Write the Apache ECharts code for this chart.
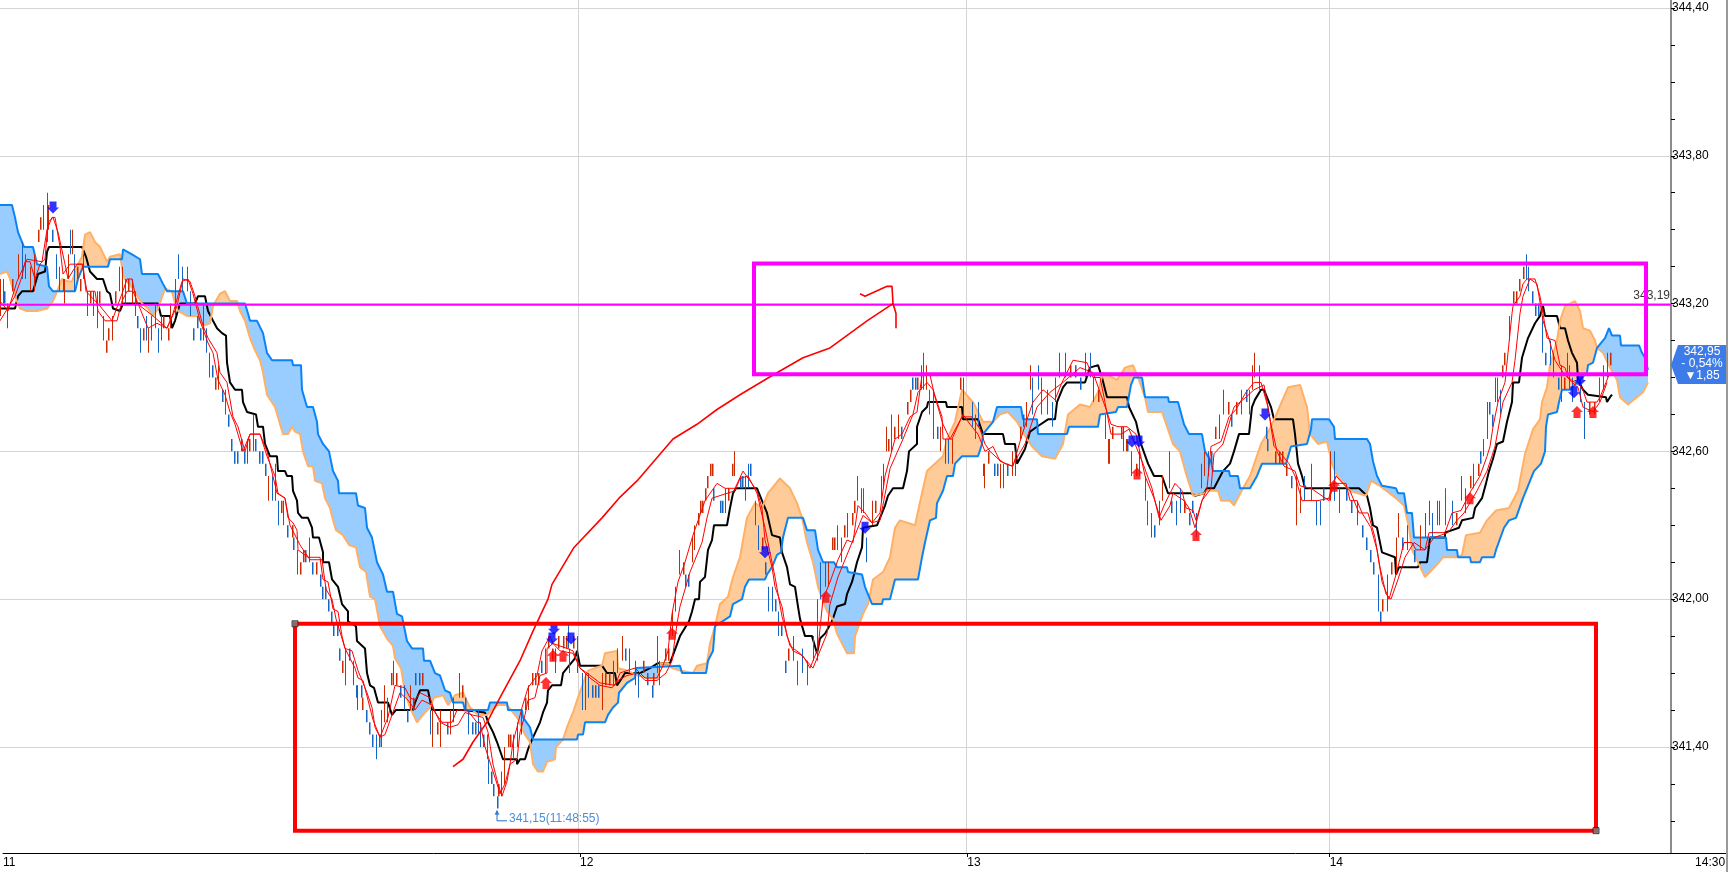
<!DOCTYPE html>
<html><head><meta charset="utf-8">
<style>html,body{margin:0;padding:0;background:#fff}#c{width:1732px;height:872px}</style>
<script src="https://cdn.jsdelivr.net/npm/echarts@6/dist/echarts.min.js"></script>
</head><body><div id="c"></div>
<script>
// Horizontal unit: chart slot (irregular session time). Vertical unit: price.
const priceLabels=[341.4,342.0,342.6,343.2,343.8,344.4];
const priceTicks=[341.1,341.25,341.4,341.55,341.7,341.85,342.0,342.15,342.3,342.45,342.6,342.75,342.9,343.05,343.2,343.35,343.5,343.65,343.8,343.95,344.1,344.25,344.4];
const timeTicks=[578,966,1329];
const timeLabelSlots=[0,578,966,1329,1695];
const timeLabels=['11','12','13','14','14:30'];

const spanB=[[0,343.60],[12,343.60],[15,343.55],[18,343.49],[24,343.43],[33,343.43],[37,343.36],[47,343.35],[49,343.27],[53,343.25],[75,343.25],[78,343.30],[83,343.35],[108,343.35],[110,343.38],[122,343.38],[123,343.42],[132,343.40],[140,343.38],[142,343.32],[158,343.32],[163,343.28],[167,343.25],[183,343.25],[187,343.20],[245,343.20],[248,343.16],[250,343.13],[257,343.13],[263,343.08],[267,343.00],[272,342.97],[292,342.97],[293,342.95],[301,342.95],[302,342.85],[307,342.78],[313,342.78],[317,342.72],[318,342.67],[323,342.63],[329,342.60],[333,342.52],[338,342.48],[339,342.43],[356,342.43],[358,342.38],[365,342.37],[367,342.29],[372,342.25],[377,342.15],[383,342.10],[387,342.03],[393,342.03],[397,341.94],[402,341.93],[407,341.83],[412,341.80],[423,341.80],[424,341.75],[430,341.75],[435,341.70],[440,341.69],[445,341.63],[450,341.62],[453,341.58],[463,341.58],[465,341.55],[488,341.55],[490,341.58],[507,341.58],[508,341.55],[522,341.55],[523,341.52],[530,341.48],[533,341.43],[577,341.43],[578,341.45],[583,341.45],[585,341.50],[605,341.50],[608,341.53],[613,341.56],[618,341.58],[619,341.62],[627,341.66],[635,341.68],[636,341.72],[680,341.73],[682,341.70],[706,341.70],[708,341.75],[713,341.79],[715,341.89],[730,341.93],[733,341.98],[742,342.00],[745,342.05],[749,342.08],[765,342.08],[767,342.10],[772,342.13],[777,342.18],[781,342.19],[783,342.25],[788,342.33],[803,342.33],[807,342.28],[815,342.28],[818,342.20],[823,342.15],[834,342.15],[837,342.13],[847,342.13],[848,342.11],[862,342.10],[865,342.05],[870,342.00],[872,341.98],[882,341.98],[883,342.00],[890,342.00],[895,342.08],[918,342.08],[922,342.17],[925,342.23],[930,342.32],[936,342.33],[937,342.39],[943,342.44],[947,342.50],[953,342.50],[955,342.55],[962,342.58],[978,342.58],[982,342.63],[983,342.67],[993,342.72],[997,342.78],[1021,342.78],[1023,342.73],[1037,342.73],[1038,342.67],[1067,342.67],[1069,342.70],[1098,342.70],[1100,342.75],[1116,342.76],[1118,342.78],[1127,342.78],[1131,342.87],[1134,342.90],[1142,342.90],[1145,342.82],[1168,342.82],[1169,342.80],[1178,342.80],[1184,342.71],[1189,342.67],[1202,342.67],[1205,342.60],[1211,342.56],[1213,342.52],[1229,342.52],[1230,342.50],[1238,342.50],[1240,342.45],[1250,342.45],[1257,342.50],[1262,342.55],[1286,342.55],[1291,342.62],[1307,342.63],[1311,342.69],[1312,342.73],[1329,342.73],[1334,342.70],[1335,342.65],[1367,342.65],[1370,342.63],[1373,342.56],[1377,342.50],[1382,342.46],[1396,342.45],[1398,342.43],[1404,342.43],[1407,342.35],[1412,342.35],[1414,342.25],[1446,342.25],[1447,342.20],[1457,342.20],[1458,342.17],[1470,342.17],[1471,342.15],[1480,342.15],[1482,342.17],[1494,342.17],[1496,342.20],[1504,342.29],[1509,342.32],[1516,342.33],[1523,342.41],[1527,342.45],[1532,342.50],[1534,342.52],[1541,342.55],[1545,342.60],[1546,342.70],[1548,342.75],[1557,342.76],[1559,342.80],[1562,342.85],[1570,342.85],[1587,342.92],[1588,342.95],[1593,342.96],[1597,343.02],[1605,343.06],[1609,343.10],[1612,343.07],[1620,343.07],[1621,343.03],[1639,343.03],[1642,343.00],[1645,342.98],[1648,342.93]];

const spanA=[[0,343.32],[7,343.33],[10,343.30],[15,343.23],[20,343.18],[27,343.17],[37,343.17],[47,343.18],[53,343.21],[57,343.25],[62,343.30],[68,343.29],[72,343.29],[78,343.36],[82,343.39],[85,343.48],[90,343.49],[95,343.45],[100,343.43],[107,343.37],[110,343.39],[120,343.40],[123,343.32],[125,343.30],[133,343.26],[142,343.20],[148,343.18],[153,343.15],[158,343.18],[165,343.26],[172,343.25],[175,343.20],[178,343.17],[187,343.15],[197,343.15],[203,343.11],[210,343.12],[213,343.19],[220,343.24],[225,343.25],[230,343.21],[237,343.21],[240,343.17],[245,343.13],[250,343.06],[255,343.01],[260,342.97],[263,342.92],[267,342.83],[275,342.78],[283,342.67],[288,342.67],[292,342.70],[295,342.68],[300,342.67],[303,342.60],[308,342.54],[313,342.54],[315,342.48],[322,342.47],[325,342.41],[330,342.37],[333,342.32],[336,342.28],[343,342.26],[349,342.22],[356,342.21],[360,342.13],[366,342.11],[370,342.01],[375,342.00],[380,341.89],[387,341.84],[393,341.81],[395,341.76],[401,341.72],[405,341.62],[410,341.56],[417,341.50],[425,341.54],[430,341.56],[434,341.60],[443,341.61],[448,341.57],[455,341.61],[463,341.62],[470,341.56],[478,341.53],[487,341.53],[497,341.57],[507,341.57],[517,341.52],[525,341.45],[530,341.42],[533,341.33],[538,341.30],[543,341.30],[547,341.34],[555,341.35],[556,341.40],[563,341.43],[567,341.48],[573,341.54],[578,341.60],[585,341.68],[588,341.71],[602,341.73],[605,341.78],[617,341.79],[618,341.72],[627,341.71],[638,341.69],[647,341.68],[658,341.68],[660,341.74],[668,341.74],[672,341.72],[680,341.71],[693,341.70],[697,341.73],[707,341.74],[710,341.82],[715,341.89],[720,341.98],[728,342.01],[733,342.09],[740,342.17],[747,342.33],[755,342.39],[762,342.37],[768,342.43],[780,342.49],[790,342.45],[797,342.39],[802,342.33],[807,342.23],[813,342.15],[818,342.05],[827,341.95],[833,341.92],[837,341.86],[847,341.78],[854,341.78],[855,341.85],[863,341.94],[868,341.98],[873,342.08],[883,342.11],[890,342.17],[895,342.29],[900,342.32],[915,342.30],[922,342.43],[927,342.52],[943,342.58],[947,342.65],[955,342.72],[962,342.85],[973,342.80],[983,342.72],[993,342.72],[1000,342.75],[1008,342.76],[1017,342.72],[1027,342.65],[1032,342.62],[1042,342.58],[1055,342.57],[1063,342.63],[1068,342.75],[1080,342.79],[1090,342.78],[1098,342.84],[1103,342.92],[1117,342.89],[1125,342.94],[1133,342.95],[1138,342.90],[1145,342.82],[1148,342.76],[1162,342.76],[1173,342.63],[1180,342.60],[1186,342.51],[1193,342.42],[1204,342.43],[1207,342.44],[1218,342.44],[1221,342.40],[1230,342.40],[1234,342.38],[1243,342.45],[1250,342.50],[1261,342.63],[1271,342.70],[1288,342.86],[1300,342.87],[1307,342.78],[1310,342.67],[1318,342.63],[1327,342.64],[1332,342.55],[1337,342.50],[1350,342.44],[1366,342.42],[1371,342.48],[1380,342.46],[1396,342.41],[1404,342.38],[1409,342.29],[1412,342.20],[1425,342.09],[1437,342.14],[1443,342.17],[1457,342.17],[1462,342.18],[1466,342.26],[1480,342.27],[1487,342.32],[1496,342.36],[1509,342.37],[1518,342.44],[1525,342.59],[1533,342.69],[1540,342.73],[1542,342.80],[1547,342.86],[1550,342.95],[1557,343.05],[1560,343.13],[1565,343.19],[1575,343.21],[1580,343.17],[1583,343.10],[1590,343.09],[1595,343.05],[1597,343.02],[1603,343.00],[1610,342.94],[1617,342.89],[1620,342.82],[1628,342.79],[1637,342.82],[1643,342.84],[1648,342.88]];

const baseLine=[[0,343.18],[15,343.18],[18,343.23],[22,343.25],[33,343.25],[38,343.32],[45,343.33],[47,343.41],[49,343.43],[82,343.43],[86,343.39],[90,343.33],[97,343.30],[103,343.30],[107,343.25],[110,343.24],[113,343.18],[120,343.17],[123,343.20],[158,343.20],[161,343.15],[170,343.15],[172,343.10],[175,343.13],[180,343.20],[195,343.20],[198,343.23],[205,343.23],[208,343.17],[213,343.13],[217,343.10],[222,343.08],[226,343.07],[227,342.96],[230,342.88],[235,342.85],[242,342.85],[243,342.80],[247,342.76],[256,342.75],[258,342.70],[263,342.70],[265,342.63],[270,342.58],[277,342.58],[278,342.52],[285,342.52],[287,342.50],[292,342.50],[293,342.44],[297,342.40],[298,342.35],[302,342.33],[308,342.33],[312,342.29],[313,342.25],[319,342.25],[323,342.19],[323,342.15],[329,342.15],[332,342.08],[338,342.05],[342,341.98],[348,341.95],[348,341.91],[356,341.89],[357,341.83],[365,341.80],[367,341.70],[370,341.65],[374,341.64],[378,341.58],[388,341.58],[392,341.53],[396,341.55],[413,341.55],[415,341.58],[420,341.63],[428,341.63],[432,341.55],[463,341.55],[485,341.54],[488,341.50],[493,341.46],[497,341.42],[503,341.35],[517,341.35],[517,341.33],[520,341.35],[525,341.35],[528,341.39],[532,341.43],[540,341.50],[543,341.54],[547,341.58],[548,341.63],[552,341.65],[561,341.65],[563,341.70],[567,341.72],[575,341.76],[577,341.79],[580,341.73],[602,341.73],[607,341.70],[615,341.70],[617,341.65],[622,341.68],[625,341.70],[640,341.70],[650,341.72],[658,341.74],[670,341.74],[680,341.85],[689,341.91],[692,341.95],[695,342.00],[699,342.00],[700,342.07],[705,342.09],[708,342.20],[712,342.24],[714,342.30],[727,342.30],[730,342.37],[733,342.43],[736,342.45],[757,342.45],[762,342.40],[767,342.35],[772,342.26],[780,342.25],[782,342.19],[787,342.13],[790,342.06],[795,342.05],[798,341.97],[800,341.92],[805,341.85],[812,341.85],[817,341.78],[820,341.84],[825,341.86],[832,341.91],[837,341.97],[845,341.98],[847,342.02],[852,342.07],[854,342.10],[857,342.15],[862,342.21],[863,342.29],[877,342.30],[885,342.38],[888,342.42],[893,342.45],[903,342.45],[907,342.52],[909,342.60],[917,342.63],[917,342.70],[922,342.76],[927,342.78],[928,342.80],[946,342.80],[947,342.78],[962,342.78],[963,342.73],[978,342.73],[983,342.67],[1003,342.67],[1005,342.63],[1015,342.63],[1017,342.55],[1025,342.61],[1030,342.68],[1037,342.70],[1048,342.73],[1055,342.73],[1057,342.80],[1063,342.86],[1067,342.88],[1085,342.88],[1090,342.94],[1098,342.95],[1102,342.90],[1107,342.82],[1127,342.82],[1129,342.78],[1136,342.72],[1141,342.63],[1148,342.55],[1154,342.50],[1162,342.50],[1168,342.43],[1191,342.43],[1195,342.42],[1204,342.43],[1207,342.45],[1214,342.45],[1223,342.52],[1230,342.55],[1234,342.60],[1239,342.67],[1249,342.67],[1252,342.78],[1255,342.81],[1261,342.85],[1264,342.85],[1271,342.78],[1274,342.73],[1293,342.73],[1295,342.67],[1298,342.55],[1302,342.50],[1305,342.45],[1359,342.45],[1367,342.42],[1370,342.37],[1373,342.30],[1377,342.29],[1382,342.19],[1395,342.17],[1396,342.10],[1399,342.13],[1418,342.13],[1420,342.15],[1427,342.15],[1430,342.25],[1445,342.25],[1445,342.27],[1459,342.29],[1462,342.32],[1473,342.33],[1475,342.37],[1482,342.41],[1486,342.47],[1489,342.52],[1493,342.57],[1497,342.63],[1503,342.64],[1507,342.72],[1512,342.80],[1513,342.88],[1519,342.88],[1522,342.98],[1528,343.06],[1535,343.12],[1540,343.15],[1543,343.19],[1545,343.15],[1557,343.15],[1560,343.10],[1565,343.10],[1568,343.05],[1572,343.00],[1577,342.96],[1578,342.89],[1583,342.85],[1588,342.83],[1606,342.82],[1607,342.80],[1610,342.82],[1612,342.83]];

const fastLine=[[0,343.21],[8,343.17],[17,343.29],[27,343.38],[42,343.37],[47,343.50],[52,343.55],[55,343.55],[60,343.43],[63,343.32],[70,343.36],[83,343.36],[86,343.25],[100,343.19],[112,343.13],[122,343.24],[127,343.30],[132,343.30],[137,343.20],[153,343.15],[167,343.10],[173,343.16],[182,343.29],[188,343.30],[193,343.24],[200,343.13],[208,343.04],[213,343.00],[218,342.89],[225,342.83],[230,342.76],[235,342.71],[243,342.60],[250,342.67],[260,342.67],[267,342.58],[275,342.50],[278,342.43],[285,342.41],[288,342.33],[293,342.31],[297,342.28],[298,342.20],[308,342.17],[320,342.17],[323,342.08],[328,342.07],[333,341.96],[338,341.95],[342,341.85],[345,341.80],[355,341.72],[358,341.68],[363,341.67],[368,341.59],[373,341.51],[380,341.44],[388,341.52],[395,341.65],[405,341.64],[410,341.60],[415,341.59],[420,341.62],[430,341.60],[435,341.54],[442,341.50],[452,341.50],[457,341.55],[467,341.55],[477,341.50],[480,341.50],[485,341.40],[497,341.25],[500,341.21],[505,341.25],[510,341.33],[513,341.42],[517,341.48],[522,341.56],[528,341.64],[537,341.69],[542,341.79],[550,341.85],[553,341.82],[567,341.80],[573,341.79],[580,341.72],[587,341.70],[600,341.66],[615,341.65],[620,341.70],[627,341.71],[635,341.72],[645,341.68],[657,341.68],[663,341.73],[668,341.79],[672,341.94],[678,342.07],[685,342.15],[693,342.26],[705,342.40],[717,342.47],[725,342.45],[735,342.45],[743,342.52],[750,342.48],[757,342.44],[762,342.37],[765,342.24],[772,342.13],[775,342.05],[782,341.97],[787,341.85],[793,341.79],[803,341.77],[810,341.72],[818,341.80],[823,342.00],[830,342.07],[838,342.16],[847,342.24],[853,342.23],[858,342.38],[865,342.35],[872,342.31],[880,342.35],[885,342.50],[895,342.65],[902,342.67],[910,342.74],[917,342.76],[922,342.91],[930,342.91],[935,342.82],[943,342.71],[950,342.65],[962,342.74],[972,342.74],[980,342.69],[985,342.63],[990,342.60],[998,342.57],[1005,342.55],[1013,342.54],[1020,342.64],[1027,342.73],[1033,342.80],[1043,342.85],[1055,342.81],[1062,342.88],[1073,342.97],[1087,342.96],[1093,342.90],[1100,342.90],[1104,342.82],[1111,342.67],[1121,342.67],[1129,342.69],[1138,342.60],[1143,342.55],[1152,342.45],[1159,342.33],[1164,342.38],[1170,342.43],[1175,342.47],[1182,342.44],[1186,342.37],[1193,342.36],[1196,342.32],[1202,342.40],[1207,342.45],[1211,342.62],[1221,342.64],[1229,342.74],[1236,342.77],[1246,342.84],[1254,342.88],[1261,342.88],[1268,342.78],[1274,342.62],[1279,342.60],[1289,342.55],[1295,342.50],[1302,342.40],[1318,342.40],[1329,342.41],[1332,342.47],[1346,342.47],[1350,342.40],[1357,342.40],[1362,342.35],[1371,342.29],[1377,342.20],[1382,342.07],[1389,342.00],[1396,342.10],[1404,342.23],[1412,342.23],[1416,342.20],[1425,342.20],[1429,342.27],[1445,342.27],[1452,342.35],[1461,342.36],[1471,342.44],[1480,342.50],[1487,342.58],[1490,342.62],[1493,342.70],[1498,342.80],[1505,342.88],[1508,343.00],[1512,343.16],[1513,343.19],[1520,343.23],[1523,343.28],[1527,343.30],[1535,343.30],[1540,343.23],[1543,343.16],[1547,343.06],[1555,343.05],[1560,342.95],[1565,342.94],[1568,342.90],[1575,342.88],[1582,342.86],[1587,342.80],[1597,342.80],[1600,342.82],[1606,342.88],[1610,342.92]];

const slowLine=[[0,343.13],[15,343.23],[22,343.31],[25,343.37],[30,343.37],[35,343.30],[40,343.36],[45,343.38],[48,343.53],[53,343.55],[58,343.49],[65,343.36],[68,343.30],[77,343.36],[82,343.36],[87,343.25],[95,343.25],[98,343.17],[105,343.13],[117,343.13],[122,343.21],[127,343.25],[133,343.25],[140,343.18],[148,343.10],[157,343.12],[167,343.10],[177,343.19],[183,343.30],[190,343.29],[195,343.23],[203,343.11],[208,343.06],[217,343.00],[220,342.92],[227,342.88],[233,342.74],[238,342.70],[245,342.60],[250,342.67],[260,342.67],[267,342.60],[277,342.43],[285,342.41],[290,342.30],[300,342.22],[310,342.16],[322,342.16],[326,342.04],[332,342.00],[336,341.92],[345,341.80],[352,341.79],[358,341.71],[367,341.62],[372,341.56],[375,341.48],[380,341.44],[385,341.45],[392,341.53],[400,341.62],[408,341.59],[415,341.55],[422,341.59],[432,341.57],[440,341.50],[450,341.48],[458,341.49],[465,341.54],[472,341.53],[483,341.52],[488,341.46],[493,341.33],[498,341.25],[502,341.20],[507,341.26],[510,341.33],[517,341.35],[520,341.46],[525,341.53],[528,341.59],[535,341.60],[540,341.69],[547,341.70],[547,341.80],[553,341.82],[560,341.79],[573,341.78],[580,341.72],[590,341.68],[600,341.65],[612,341.64],[618,341.67],[627,341.69],[638,341.70],[645,341.67],[657,341.67],[666,341.70],[672,341.75],[677,341.90],[680,341.97],[690,342.11],[702,342.23],[707,342.33],[712,342.41],[735,342.44],[740,342.49],[748,342.50],[757,342.43],[765,342.29],[775,342.09],[782,341.93],[790,341.81],[800,341.78],[813,341.72],[827,341.86],[830,341.98],[838,342.09],[852,342.23],[863,342.34],[872,342.31],[880,342.32],[890,342.53],[903,342.65],[913,342.75],[918,342.84],[927,342.88],[933,342.85],[942,342.74],[943,342.65],[952,342.65],[963,342.75],[970,342.71],[978,342.67],[985,342.60],[993,342.62],[1000,342.56],[1012,342.54],[1025,342.63],[1037,342.78],[1050,342.84],[1063,342.88],[1080,342.94],[1093,342.92],[1107,342.76],[1111,342.71],[1118,342.70],[1127,342.70],[1136,342.67],[1145,342.50],[1154,342.41],[1161,342.32],[1170,342.38],[1173,342.43],[1184,342.40],[1189,342.37],[1195,342.29],[1202,342.40],[1211,342.45],[1214,342.59],[1223,342.63],[1234,342.78],[1246,342.82],[1254,342.85],[1264,342.87],[1271,342.71],[1277,342.60],[1284,342.54],[1295,342.52],[1300,342.46],[1311,342.45],[1329,342.40],[1336,342.50],[1350,342.44],[1359,342.35],[1368,342.35],[1375,342.25],[1380,342.13],[1386,342.02],[1391,342.00],[1398,342.08],[1405,342.17],[1414,342.23],[1425,342.20],[1434,342.25],[1448,342.27],[1457,342.32],[1464,342.35],[1477,342.44],[1487,342.52],[1495,342.62],[1503,342.80],[1512,342.88],[1515,342.97],[1520,343.16],[1523,343.23],[1530,343.30],[1537,343.28],[1543,343.13],[1548,343.07],[1555,342.97],[1563,342.92],[1572,342.88],[1578,342.86],[1583,342.78],[1593,342.76],[1600,342.80],[1607,342.88]];

const upSticks=[[0,343.30,343.15],[3,343.30,343.20],[7,343.20,343.10],[12,343.30,343.25],[18,343.40,343.30],[25,343.40,343.30],[30,343.35,343.25],[34,343.40,343.25],[38,343.50,343.45],[40,343.55,343.50],[43,343.60,343.50],[48,343.60,343.50],[63,343.30,343.25],[64,343.30,343.20],[68,343.40,343.30],[72,343.50,343.40],[77,343.35,343.30],[80,343.30,343.25],[83,343.40,343.30],[90,343.25,343.20],[93,343.25,343.15],[99,343.25,343.20],[106,343.05,343.00],[108,343.10,343.05],[112,343.15,343.05],[115,343.25,343.20],[119,343.35,343.25],[122,343.35,343.20],[128,343.30,343.25],[132,343.30,343.20],[143,343.10,343.05],[148,343.10,343.00],[151,343.15,343.05],[155,343.20,343.10],[161,343.15,343.05],[163,343.15,343.10],[168,343.10,343.05],[170,343.20,343.10],[175,343.30,343.15],[203,343.20,343.05],[215,342.90,342.85],[218,342.95,342.85],[247,342.65,342.55],[249,342.65,342.60],[253,342.75,342.60],[268,342.50,342.40],[281,342.40,342.35],[292,342.30,342.25],[300,342.15,342.10],[303,342.20,342.15],[316,342.15,342.10],[342,341.75,341.70],[357,341.65,341.55],[362,341.60,341.55],[381,341.55,341.40],[384,341.65,341.50],[387,341.60,341.50],[391,341.70,341.65],[393,341.75,341.65],[396,341.70,341.65],[410,341.65,341.55],[413,341.60,341.55],[422,341.70,341.65],[432,341.55,341.40],[437,341.50,341.45],[440,341.55,341.40],[450,341.55,341.45],[453,341.60,341.50],[459,341.70,341.60],[462,341.65,341.60],[498,341.25,341.20],[501,341.30,341.20],[504,341.40,341.25],[508,341.45,341.40],[510,341.45,341.40],[517,341.50,341.40],[521,341.55,341.45],[525,341.60,341.55],[528,341.65,341.55],[532,341.70,341.65],[535,341.70,341.65],[538,341.70,341.65],[545,341.80,341.70],[548,341.85,341.80],[552,341.80,341.75],[558,341.85,341.80],[563,341.85,341.80],[566,341.85,341.80],[573,341.85,341.80],[577,341.85,341.70],[602,341.70,341.55],[605,341.70,341.65],[609,341.70,341.65],[613,341.75,341.65],[622,341.85,341.75],[629,341.80,341.70],[635,341.75,341.65],[643,341.75,341.70],[653,341.70,341.65],[659,341.75,341.65],[665,341.80,341.75],[668,341.80,341.75],[672,341.95,341.85],[675,342.05,341.95],[683,342.15,342.10],[692,342.25,342.15],[694,342.30,342.20],[698,342.35,342.30],[700,342.40,342.35],[702,342.40,342.35],[705,342.45,342.40],[707,342.50,342.45],[710,342.55,342.50],[712,342.55,342.50],[725,342.45,342.35],[728,342.45,342.40],[732,342.55,342.50],[734,342.60,342.50],[745,342.50,342.40],[762,342.25,342.20],[788,341.80,341.75],[813,341.85,341.75],[817,342.00,341.75],[825,342.15,342.05],[828,342.15,342.05],[832,342.25,342.20],[834,342.25,342.20],[844,342.30,342.25],[847,342.35,342.25],[852,342.35,342.30],[854,342.40,342.35],[872,342.40,342.30],[875,342.40,342.35],[881,342.50,342.40],[883,342.55,342.45],[886,342.70,342.60],[888,342.65,342.60],[894,342.70,342.65],[898,342.75,342.65],[907,342.80,342.75],[910,342.85,342.80],[917,342.90,342.85],[921,342.95,342.85],[926,342.95,342.85],[940,342.70,342.60],[945,342.65,342.55],[952,342.65,342.55],[960,342.90,342.85],[963,342.90,342.75],[984,342.55,342.45],[988,342.60,342.55],[1000,342.55,342.45],[1012,342.60,342.50],[1015,342.60,342.50],[1020,342.70,342.65],[1026,342.80,342.70],[1030,342.95,342.85],[1055,342.90,342.80],[1059,343.00,342.90],[1065,343.00,342.90],[1070,342.95,342.90],[1085,343.00,342.90],[1098,342.85,342.80],[1108,342.65,342.55],[1112,342.70,342.65],[1121,342.70,342.65],[1123,342.70,342.60],[1126,342.65,342.60],[1136,342.55,342.50],[1139,342.60,342.50],[1159,342.40,342.30],[1162,342.50,342.40],[1184,342.40,342.35],[1201,342.55,342.45],[1204,342.60,342.50],[1215,342.70,342.65],[1219,342.75,342.65],[1223,342.85,342.75],[1228,342.80,342.75],[1236,342.80,342.75],[1252,342.95,342.85],[1254,343.00,342.90],[1275,342.60,342.55],[1279,342.60,342.55],[1282,342.60,342.55],[1286,342.55,342.50],[1296,342.50,342.30],[1300,342.45,342.35],[1330,342.60,342.40],[1339,342.45,342.35],[1357,342.40,342.30],[1382,342.00,341.95],[1387,342.10,341.95],[1391,342.15,342.10],[1396,342.25,342.10],[1398,342.35,342.25],[1407,342.30,342.20],[1420,342.30,342.20],[1425,342.35,342.25],[1429,342.40,342.30],[1439,342.40,342.30],[1456,342.35,342.30],[1461,342.50,342.40],[1470,342.50,342.45],[1473,342.55,342.45],[1478,342.55,342.50],[1483,342.65,342.58],[1487,342.80,342.65],[1495,342.90,342.80],[1502,342.95,342.90],[1504,343.00,342.95],[1509,343.15,343.05],[1513,343.25,343.20],[1516,343.25,343.20],[1519,343.30,343.25],[1523,343.35,343.30],[1561,342.95,342.80],[1564,342.90,342.85],[1589,342.80,342.75],[1594,342.80,342.75],[1607,343.00,342.90],[1610,343.00,342.95]];

const downSticks=[[4,343.25,343.20],[22,343.45,343.30],[47,343.65,343.45],[52,343.50,343.45],[56,343.40,343.30],[59,343.35,343.25],[70,343.50,343.40],[74,343.40,343.25],[87,343.25,343.15],[97,343.25,343.10],[103,343.15,343.05],[125,343.30,343.20],[135,343.25,343.15],[137,343.15,343.10],[140,343.10,343.00],[146,343.15,343.05],[158,343.10,343.00],[178,343.40,343.30],[182,343.35,343.25],[187,343.35,343.25],[190,343.25,343.15],[193,343.10,343.05],[197,343.15,343.10],[200,343.10,343.05],[206,343.10,343.00],[209,343.00,342.90],[212,342.95,342.90],[222,342.85,342.80],[225,342.85,342.75],[228,342.75,342.70],[231,342.65,342.60],[234,342.60,342.55],[237,342.60,342.55],[241,342.65,342.60],[244,342.60,342.55],[255,342.65,342.60],[259,342.60,342.55],[262,342.60,342.55],[265,342.55,342.50],[272,342.50,342.40],[275,342.55,342.40],[278,342.40,342.30],[283,342.40,342.30],[287,342.30,342.25],[293,342.25,342.20],[297,342.20,342.10],[305,342.20,342.15],[309,342.25,342.15],[312,342.15,342.10],[320,342.10,342.05],[322,342.05,342.00],[325,342.05,342.00],[328,342.00,341.95],[331,341.95,341.90],[333,341.90,341.85],[337,341.90,341.85],[339,341.80,341.75],[345,341.80,341.65],[349,341.80,341.75],[353,341.75,341.65],[356,341.65,341.60],[361,341.65,341.60],[366,341.55,341.50],[369,341.50,341.45],[372,341.45,341.40],[376,341.45,341.35],[379,341.45,341.40],[400,341.65,341.60],[404,341.65,341.55],[407,341.55,341.50],[415,341.70,341.65],[419,341.70,341.65],[430,341.55,341.45],[447,341.50,341.45],[465,341.60,341.55],[468,341.55,341.45],[472,341.50,341.45],[475,341.50,341.45],[478,341.55,341.45],[480,341.50,341.40],[483,341.45,341.40],[487,341.45,341.35],[488,341.35,341.25],[491,341.30,341.25],[493,341.25,341.20],[497,341.20,341.15],[513,341.45,341.35],[541,341.75,341.70],[555,341.80,341.70],[568,341.90,341.80],[569,341.80,341.70],[582,341.70,341.55],[585,341.70,341.55],[588,341.70,341.60],[592,341.65,341.60],[595,341.65,341.60],[598,341.65,341.60],[617,341.80,341.70],[625,341.80,341.75],[638,341.70,341.60],[647,341.70,341.65],[652,341.65,341.60],[657,341.85,341.70],[679,342.20,342.10],[685,342.10,342.05],[688,342.10,342.05],[713,342.45,342.40],[720,342.40,342.35],[722,342.40,342.35],[740,342.50,342.45],[742,342.50,342.45],[748,342.55,342.45],[750,342.55,342.50],[755,342.40,342.30],[758,342.30,342.20],[765,342.15,342.10],[768,342.05,341.95],[772,342.05,341.95],[775,342.00,341.95],[778,341.95,341.85],[781,341.90,341.85],[785,341.75,341.70],[793,341.85,341.75],[797,341.75,341.65],[802,341.80,341.70],[807,341.75,341.65],[820,342.15,342.00],[837,342.30,342.20],[841,342.25,342.15],[857,342.50,342.40],[861,342.45,342.35],[863,342.45,342.35],[866,342.25,342.15],[891,342.75,342.60],[901,342.70,342.65],[912,342.90,342.85],[915,342.90,342.85],[923,343.00,342.85],[929,342.85,342.75],[933,342.85,342.65],[937,342.70,342.65],[948,342.65,342.55],[972,342.80,342.70],[975,342.75,342.65],[978,342.80,342.70],[983,342.55,342.50],[994,342.55,342.50],[997,342.55,342.50],[1003,342.55,342.45],[1007,342.55,342.50],[1023,342.75,342.70],[1032,342.90,342.75],[1038,342.95,342.85],[1041,342.90,342.75],[1047,342.85,342.75],[1052,342.80,342.70],[1075,342.95,342.90],[1080,342.90,342.85],[1090,343.00,342.90],[1093,342.90,342.80],[1105,342.75,342.65],[1109,342.65,342.55],[1127,342.65,342.60],[1131,342.60,342.50],[1145,342.50,342.40],[1147,342.40,342.30],[1151,342.35,342.25],[1154,342.30,342.25],[1169,342.60,342.45],[1171,342.40,342.35],[1176,342.40,342.30],[1180,342.45,342.35],[1189,342.35,342.30],[1192,342.40,342.35],[1196,342.35,342.25],[1208,342.60,342.50],[1211,342.60,342.55],[1231,342.75,342.70],[1241,342.85,342.75],[1246,342.85,342.80],[1249,342.85,342.75],[1259,342.95,342.85],[1266,342.70,342.65],[1267,342.65,342.60],[1291,342.50,342.45],[1304,342.50,342.40],[1311,342.55,342.40],[1316,342.40,342.30],[1320,342.40,342.30],[1323,342.45,342.40],[1334,342.60,342.40],[1346,342.45,342.40],[1351,342.40,342.35],[1362,342.30,342.25],[1366,342.25,342.20],[1370,342.20,342.15],[1373,342.15,342.10],[1378,342.10,341.95],[1380,341.95,341.90],[1402,342.25,342.20],[1414,342.20,342.15],[1432,342.35,342.25],[1437,342.40,342.30],[1445,342.45,342.30],[1452,342.40,342.30],[1465,342.45,342.35],[1480,342.60,342.55],[1489,342.80,342.75],[1492,342.75,342.70],[1497,342.90,342.80],[1500,342.85,342.75],[1526,343.40,343.30],[1528,343.35,343.25],[1532,343.25,343.20],[1535,343.20,343.15],[1538,343.20,343.15],[1542,343.15,343.00],[1545,343.00,342.95],[1550,343.05,342.95],[1553,343.00,342.90],[1558,342.90,342.85],[1567,343.00,342.90],[1569,342.95,342.85],[1572,342.90,342.80],[1580,342.90,342.80],[1584,342.80,342.65],[1599,342.90,342.80],[1603,342.95,342.85]];

const sellSignals=[[53,343.59],[554,341.88],[552,341.84],[571,341.84],[765,342.19],[865,342.29],[1132,342.64],[1139,342.64],[1265,342.75],[1580,342.89],[1574,342.84]];
const buySignals=[[672,341.86],[546,341.66],[553,341.77],[563,341.77],[826,342.01],[1137,342.51],[1196,342.26],[1334,342.46],[1470,342.41],[1577,342.76],[1593,342.76]];

const redBox=[[295,341.90],[1596,341.90],[1596,341.06],[295,341.06],[295,341.90]];
const redBoxHandles=[[295,341.90],[1596,341.06]];
const pinkBox=[[754,343.363],[1646,343.363],[1646,342.913],[754,342.913],[754,343.363]];
const refLevel=[[0,343.195],[1671,343.195]];
const refLevelLabel=[[1669,343.195]];
const penStroke=[[453,341.32],[463,341.35],[473,341.42],[487,341.50],[500,341.60],[520,341.75],[533,341.87],[548,342.00],[552,342.06],[574,342.21],[602,342.33],[619,342.41],[637,342.48],[673,342.65],[697,342.71],[717,342.77],[740,342.83],[773,342.91],[803,342.98],[830,343.02],[867,343.13],[893,343.20],[896,343.16],[896,343.10],[896,343.16],[893,343.20],[892,343.27],[887,343.27],[865,343.23],[860,343.24]];
const lowMarker=[[497,341.14],[497,341.10],[507,341.10]];
const lowMarkerHead=[[497,341.135]];
const lowLabel=[[509,341.107]];

// Cloud regions are polygons between the two traced spans, split where they cross.
function valueAt(line,x){for(let i=1;i<line.length;i++){if(x<=line[i][0]){const a=line[i-1],b=line[i];if(b[0]===a[0])return b[1];return a[1]+(b[1]-a[1])*(x-a[0])/(b[0]-a[0]);}}return line[line.length-1][1];}
const cloudRuns=(function(){
  const xs=[...new Set(spanA.map(p=>p[0]).concat(spanB.map(p=>p[0])))].sort((m,n)=>m-n);
  const runs=[];let cur=null,prev=null;
  xs.forEach(x=>{
    const a=valueAt(spanA,x),b=valueAt(spanB,x),up=a>=b;
    if(!cur){cur={up:up,pts:[[x,a,b]]};runs.push(cur);}
    else if(up!==cur.up){
      const d0=prev[1]-prev[2],d1=a-b,t=d0/(d0-d1),cx=prev[0]+(x-prev[0])*t,cv=prev[1]+(a-prev[1])*t;
      cur.pts.push([cx,cv,cv]);cur={up:up,pts:[[cx,cv,cv],[x,a,b]]};runs.push(cur);
    } else cur.pts.push([x,a,b]);
    prev=[x,a,b];
  });
  return runs;
})();

const FONT='"Liberation Sans",Arial,sans-serif';
const plain={type:'line',showSymbol:false,symbol:'none',silent:true,animation:false,xAxisIndex:0,yAxisIndex:0};
function stickSeries(data,color,z){return {type:'custom',silent:true,animation:false,xAxisIndex:0,yAxisIndex:0,z:z,data:data,encode:{x:0,y:[1,2]},
  renderItem:function(p,api){const x=api.value(0),hi=api.coord([x,api.value(1)]),lo=api.coord([x,api.value(2)]);
    const w=(api.value(1)-api.value(2))<0.051?1.5:1;
    return {type:'rect',shape:{x:Math.round(hi[0]),y:hi[1],width:w,height:lo[1]-hi[1]},style:{fill:color}};}};}
const DOWN_ARROW='path://M2.5,0H9.5V6H12L6,12L0,6H2.5Z';
const UP_ARROW='path://M6,0L12,6H9.5V12H2.5V6H0Z';

const option={
  backgroundColor:'#fff',animation:false,
  grid:[{left:0,top:0,width:1671,height:853,containLabel:false},{left:0,top:852,width:1726,height:1,containLabel:false}],
  xAxis:[
    {type:'value',gridIndex:0,min:0,max:1671,position:'bottom',axisLine:{show:false},axisLabel:{show:false},
     axisTick:{show:false,customValues:timeTicks},splitLine:{show:true,lineStyle:{color:'#d4d4d4',width:1}}},
    {type:'value',gridIndex:1,min:0,max:1726,position:'bottom',axisLine:{show:true,onZero:false,lineStyle:{color:'#000',width:1}},
     axisTick:{show:true,length:4,lineStyle:{color:'#000'},customValues:timeTicks},
     axisLabel:{show:true,customValues:timeLabelSlots,align:'left',margin:4,color:'#000',fontFamily:FONT,fontSize:12,hideOverlap:false,
       formatter:function(v){return timeLabels[timeLabelSlots.indexOf(v)];}},splitLine:{show:false}}
  ],
  yAxis:[
    {type:'value',gridIndex:0,position:'right',min:340.9694,max:344.4325,
     axisLine:{show:true,onZero:false,lineStyle:{color:'#8c8c8c',width:2}},
     axisTick:{show:true,length:4,lineStyle:{color:'#000'},customValues:priceTicks},
     axisLabel:{show:true,margin:1,customValues:priceLabels,color:'#000',fontFamily:FONT,fontSize:12,hideOverlap:false,
       formatter:function(v){return v.toFixed(2).replace('.',',');}},splitLine:{show:false}},
    {type:'value',gridIndex:0,position:'right',min:340.9694,max:344.4325,axisLine:{show:false},axisLabel:{show:false},
     axisTick:{show:false,customValues:priceLabels},splitLine:{show:true,lineStyle:{color:'#d4d4d4',width:1}}},
    {type:'value',gridIndex:1,show:false,min:0,max:1}
  ],
  graphic:[
    {type:'line',shape:{x1:1727,y1:0,x2:1727,y2:872},style:{stroke:'#999',lineWidth:2},z:1},
    {type:'polygon',shape:{points:[[1671,365],[1678,345],[1726,345],[1726,384],[1678,384]]},style:{fill:'#3d7ce8'},z:20},
    {type:'text',x:1702,y:352,style:{text:'342,95',fill:'#fff',font:'12px '+FONT,textAlign:'center',textVerticalAlign:'middle'},z:21},
    {type:'text',x:1702,y:364,style:{text:'- 0,54%',fill:'#fff',font:'12px '+FONT,textAlign:'center',textVerticalAlign:'middle'},z:21},
    {type:'text',x:1702,y:376,style:{text:'▼1,85',fill:'#fff',font:'12px '+FONT,textAlign:'center',textVerticalAlign:'middle'},z:21}
  ],
  series:[
    {type:'custom',silent:true,animation:false,xAxisIndex:0,yAxisIndex:0,z:2,data:cloudRuns.map((r,i)=>[i]),encode:{},
     renderItem:function(p,api){const r=cloudRuns[p.dataIndex];
       const pts=r.pts.map(q=>api.coord([q[0],q[1]])).concat(r.pts.slice().reverse().map(q=>api.coord([q[0],q[2]])));
       return {type:'polygon',shape:{points:pts},style:{fill:r.up?'#ffcc99':'#99ccff'}};}},
    Object.assign({},plain,{name:'Base',z:3,data:baseLine,lineStyle:{color:'#000',width:2}}),
    Object.assign({},plain,{name:'Span A',z:4,data:spanA,lineStyle:{color:'#ffb066',width:2}}),
    Object.assign({},plain,{name:'Span B',z:5,data:spanB,lineStyle:{color:'#0a84f5',width:2}}),
    stickSeries(downSticks,'#1566c4',6),
    stickSeries(upSticks,'#cc2a00',6),
    Object.assign({},plain,{name:'Slow',z:7,data:slowLine,lineStyle:{color:'#f00',width:1}}),
    Object.assign({},plain,{name:'Fast',z:7,data:fastLine,lineStyle:{color:'#f00',width:1}}),
    {type:'scatter',silent:true,animation:false,z:8,data:sellSignals,symbol:DOWN_ARROW,symbolSize:12,itemStyle:{color:'#0000ff'}},
    {type:'scatter',silent:true,animation:false,z:8,data:buySignals,symbol:UP_ARROW,symbolSize:12,itemStyle:{color:'#ff0000'}},
    Object.assign({},plain,{name:'Level',z:9,data:refLevel,lineStyle:{color:'#ff00ff',width:2}}),
    {type:'scatter',silent:true,animation:false,z:9,data:refLevelLabel,symbolSize:0,
     label:{show:true,position:'left',offset:[1,-9],distance:0,formatter:'343,19',color:'#000',fontFamily:FONT,fontSize:12}},
    Object.assign({},plain,{name:'Low',z:9,data:lowMarker,lineStyle:{color:'#1f6fd0',width:1}}),
    {type:'scatter',silent:true,animation:false,z:9,data:lowMarkerHead,symbol:'triangle',symbolSize:5,itemStyle:{color:'#1f6fd0'}},
    {type:'scatter',silent:true,animation:false,z:9,data:lowLabel,symbolSize:0,
     label:{show:true,position:'right',distance:0,formatter:'341,15(11:48:55)',color:'#1f6fd0',fontFamily:FONT,fontSize:12}},
    Object.assign({},plain,{name:'Pen',z:10,data:penStroke,lineStyle:{color:'#f00',width:1.6}}),
    Object.assign({},plain,{name:'PinkBox',z:11,data:pinkBox,lineStyle:{color:'#ff00ff',width:4,join:'miter',cap:'square'}}),
    Object.assign({},plain,{name:'RedBox',z:11,data:redBox,lineStyle:{color:'#ff0000',width:4,join:'miter',cap:'square'}}),
    {type:'scatter',silent:true,animation:false,z:12,data:redBoxHandles,symbol:'rect',symbolSize:6,itemStyle:{color:'#808080',borderColor:'#222',borderWidth:1}}
  ]
};
echarts.init(document.getElementById('c')).setOption(option);
</script></body></html>
